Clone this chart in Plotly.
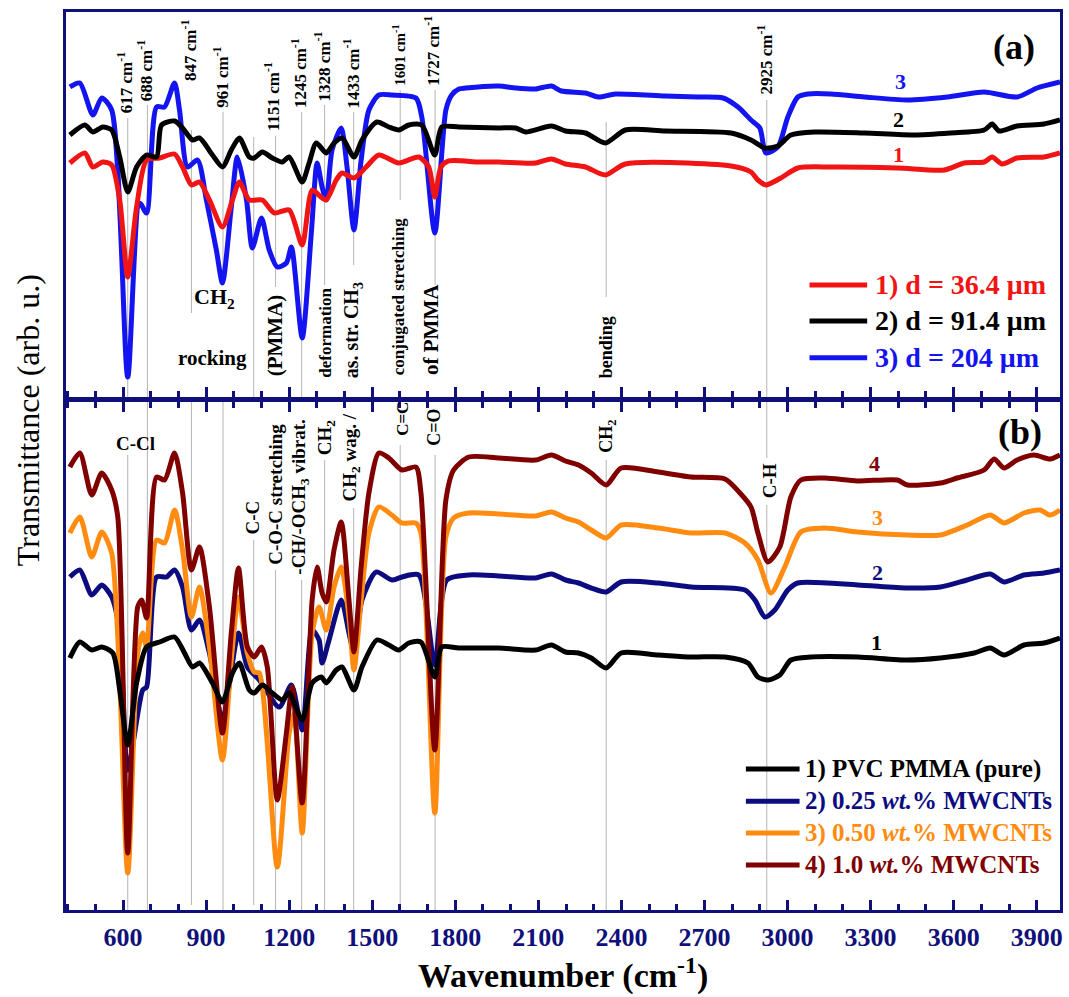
import plotly.graph_objects as go

FONT = "Liberation Serif"
NAVY = "#10107a"

# ---------------- Panel (a): transmittance, three film thicknesses ----------------
wn_a_blue = [408, 444, 491, 523, 559, 617, 660, 685, 721, 750, 786, 804, 833, 869, 901, 937, 959, 991, 1013,
             1046, 1067, 1100, 1128, 1157, 1190, 1208, 1247, 1280, 1301, 1319, 1334, 1355, 1388, 1409, 1434,
             1460, 1488, 1524, 1571, 1658, 1679, 1726, 1766, 1787, 1813, 1838, 1957, 2018, 2090, 2147, 2183,
             2270, 2317, 2378, 2558, 2677, 2767, 2821, 2868, 2900, 2922, 2965, 3001, 3037, 3073, 3156, 3278,
             3433, 3577, 3710, 3829, 3901, 3984]
tr_a_blue = [313, 317, 285, 302, 290, 23, 197, 187, 293, 293, 317, 290, 233, 240, 200, 150, 117, 193, 243,
             200, 152, 182, 150, 133, 137, 153, 62, 167, 237, 213, 200, 250, 272, 233, 170,
             240, 290, 305, 305, 302, 283, 167, 290, 305, 311, 312, 314, 312, 311, 314, 309,
             307, 303, 306, 304, 303, 302, 293, 280, 272, 247, 253, 283, 303, 306, 306, 303,
             300, 303, 308, 303, 312, 318]

wn_a_black = [408, 462, 491, 527, 559, 588, 617, 649, 685, 721, 739, 786, 815, 851, 876, 923, 959, 991, 1020,
              1056, 1074, 1103, 1139, 1175, 1200, 1247, 1272, 1298, 1334, 1362, 1391, 1434, 1463, 1517, 1560,
              1596, 1632, 1679, 1726, 1751, 1813, 1957, 2018, 2054, 2147, 2198, 2270, 2342, 2414, 2558, 2796,
              2868, 2918, 2965, 3012, 3098, 3278, 3458, 3588, 3710, 3739, 3764, 3829, 3926, 3984]
tr_a_black = [265, 275, 268, 273, 270, 243, 208, 233, 245, 243, 275, 279, 272, 260, 262, 245, 233, 250, 262,
              243, 242, 248, 242, 238, 243, 218, 237, 257, 247, 257, 262, 243, 260, 278, 273,
              270, 275, 275, 245, 273, 273, 272, 272, 268, 274, 269, 267, 257, 270, 269, 267,
              260, 252, 254, 265, 268, 267, 265, 267, 270, 276, 269, 274, 276, 280]

wn_a_red = [408, 462, 491, 527, 559, 588, 617, 649, 685, 732, 786, 815, 847, 876, 912, 959, 995, 1020, 1056,
            1103, 1146, 1200, 1247, 1283, 1319, 1334, 1370, 1391, 1434, 1478, 1524, 1596, 1668, 1704, 1726,
            1748, 1776, 1885, 1957, 2090, 2147, 2198, 2270, 2342, 2414, 2796, 2868, 2893, 2922, 2976, 3037,
            3156, 3397, 3566, 3638, 3710, 3739, 3775, 3829, 3926, 3984]
tr_a_red = [237, 247, 233, 238, 235, 200, 123, 193, 240, 242, 246, 233, 215, 218, 200, 173, 200, 218, 200,
            200, 187, 190, 155, 210, 202, 200, 220, 227, 222, 233, 245, 237, 243, 233, 203,
            233, 239, 238, 238, 237, 241, 236, 233, 225, 236, 234, 228, 220, 215, 222, 232,
            233, 232, 230, 237, 238, 243, 236, 242, 243, 247]

# ---------------- Panel (b): transmittance, MWCNT loading ----------------
wn_b1 = [408, 444, 487, 523, 563, 588, 617, 649, 685, 732, 786, 822, 851, 876, 923, 959, 995, 1020, 1056,
         1074, 1103, 1139, 1175, 1200, 1247, 1283, 1316, 1334, 1370, 1391, 1434, 1463, 1517, 1560, 1596,
         1632, 1676, 1726, 1751, 1813, 1957, 2090, 2147, 2198, 2245, 2291, 2345, 2399, 2533, 2652, 2774,
         2857, 2893, 2929, 2972, 3012, 3084, 3253, 3433, 3552, 3674, 3732, 3782, 3854, 3926, 3984]
tr_b1 = [252, 268, 260, 263, 257, 220, 165, 227, 263, 268, 273, 257, 243, 247, 227, 208, 237, 247, 220,
         217, 225, 217, 210, 217, 190, 227, 233, 227, 240, 243, 220, 243, 270, 265, 260,
         267, 268, 233, 263, 262, 262, 260, 265, 258, 257, 252, 242, 257, 255, 253, 253,
         247, 233, 230, 235, 250, 253, 253, 250, 252, 257, 262, 255, 265, 267, 272]

wn_b2 = [408, 444, 487, 523, 559, 588, 617, 671, 685, 721, 757, 786, 815, 847, 876, 912, 959, 1017, 1049,
         1092, 1164, 1208, 1247, 1283, 1308, 1319, 1344, 1388, 1416, 1434, 1463, 1514, 1571, 1607, 1668,
         1726, 1769, 1849, 1957, 2090, 2147, 2198, 2245, 2291, 2345, 2399, 2533, 2652, 2846, 2882, 2918,
         2954, 3001, 3037, 3253, 3433, 3552, 3649, 3732, 3782, 3854, 3926, 3984]
tr_b2 = [333, 340, 315, 325, 313, 277, 140, 220, 223, 333, 333, 340, 323, 280, 290, 257, 190, 277, 243,
         230, 203, 225, 180, 280, 270, 247, 270, 310, 277, 257, 310, 338, 330, 333, 335,
         245, 330, 335, 334, 332, 336, 330, 327, 322, 318, 328, 327, 323, 320, 310, 293,
         300, 320, 327, 325, 322, 323, 330, 336, 328, 335, 337, 340]

wn_b3 = [408, 444, 487, 523, 559, 617, 653, 671, 685, 721, 750, 786, 815, 847, 876, 912, 959, 991, 1017,
         1049, 1074, 1092, 1157, 1200, 1218, 1247, 1283, 1308, 1334, 1362, 1388, 1416, 1434, 1460, 1488,
         1524, 1571, 1607, 1658, 1676, 1726, 1766, 1794, 1849, 1957, 2090, 2147, 2198, 2245, 2291, 2345,
         2399, 2533, 2652, 2774, 2846, 2893, 2940, 2990, 3048, 3134, 3253, 3433, 3552, 3649, 3732, 3782,
         3854, 3912, 3948, 3984]
tr_b3 = [377, 393, 353, 378, 357, 37, 257, 277, 263, 370, 367, 400, 360, 293, 323, 263, 150, 250, 313,
         257, 238, 237, 43, 177, 197, 77, 277, 303, 280, 323, 343, 293, 240, 310, 377,
         403, 395, 387, 387, 377, 97, 373, 392, 397, 396, 394, 398, 392, 388, 380, 372,
         385, 382, 377, 377, 367, 350, 317, 343, 378, 382, 378, 375, 375, 385, 395, 387,
         397, 400, 395, 400]

wn_b4 = [408, 444, 487, 523, 559, 581, 617, 653, 667, 685, 721, 750, 786, 815, 847, 876, 912, 959, 991,
         1017, 1049, 1074, 1100, 1121, 1157, 1190, 1211, 1247, 1283, 1301, 1319, 1334, 1362, 1388, 1416,
         1434, 1460, 1488, 1524, 1560, 1607, 1658, 1676, 1726, 1766, 1794, 1849, 1957, 2090, 2147, 2198,
         2245, 2291, 2345, 2399, 2533, 2652, 2774, 2828, 2868, 2893, 2929, 2972, 3012, 3048, 3134, 3253,
         3397, 3433, 3552, 3613, 3710, 3746, 3782, 3829, 3890, 3948, 3984]
tr_b4 = [443, 457, 415, 437, 420, 393, 57, 303, 310, 292, 433, 430, 457, 417, 340, 363, 303, 177, 277,
         342, 263, 253, 263, 243, 110, 177, 223, 107, 310, 343, 317, 308, 360, 388, 310,
         258, 343, 417, 457, 452, 440, 443, 417, 160, 410, 440, 453, 452, 450, 455, 449,
         445, 437, 425, 442, 438, 433, 431, 417, 403, 377, 348, 363, 413, 430, 432, 429,
         430, 425, 427, 432, 440, 451, 442, 450, 455, 451, 455]

series_a = [
    ("3) d = 204 μm", wn_a_blue, tr_a_blue, "#1414f0"),
    ("1) d = 36.4 μm", wn_a_red, tr_a_red, "#f01414"),
    ("2) d = 91.4 μm", wn_a_black, tr_a_black, "#000000"),
]
series_b = [
    ("2) 0.25 wt.% MWCNTs", wn_b2, tr_b2, "#0c0c80"),
    ("3) 0.50 wt.% MWCNTs", wn_b3, tr_b3, "#ff8c10"),
    ("4) 1.0 wt.% MWCNTs", wn_b4, tr_b4, "#800000"),
    ("1) PVC PMMA (pure)", wn_b1, tr_b1, "#000000"),
]

# band positions (cm^-1) used for guide lines
band_wn = [617, 688, 847, 961, 1072, 1151, 1245, 1328, 1433, 1601, 1727, 2345, 2925]

X_RANGE = [394, 3984]
YA_RANGE = [3, 388]
YB_RANGE = [0, 508]

fig = go.Figure()
for name, x, y, c in series_a:
    fig.add_trace(go.Scatter(x=x, y=y, mode="lines", name=name, xaxis="x2", yaxis="y2",
                             line=dict(color=c, width=5, shape="spline", smoothing=0.7),
                             showlegend=False))
for name, x, y, c in series_b:
    fig.add_trace(go.Scatter(x=x, y=y, mode="lines", name=name, xaxis="x", yaxis="y",
                             line=dict(color=c, width=5, shape="spline", smoothing=0.7),
                             showlegend=False))

guide_a = {617: (3, 282), 688: (3, 295), 847: (87, 270), 961: (117, 288), 1072: (3, 263),
           1151: (113, 264), 1245: (3, 288), 1328: (115, 295), 1433: (135, 288), 1601: (200, 310),
           1727: (115, 310), 2345: (103, 278), 2925: (3, 300)}
guide_b = {617: [(0, 455)], 688: [(0, 508)], 847: [(5, 508)], 961: [(0, 508)], 1072: [(5, 370)],
           1151: [(0, 340)], 1245: [(0, 330)], 1328: [(0, 450)], 1433: [(0, 402)], 1601: [(0, 465)],
           1727: [(0, 455)], 2345: [(0, 450)], 2925: [(0, 405), (452, 508)]}
shapes = []
for w in band_wn:
    y0, y1 = guide_a[w]
    shapes.append(dict(type="line", xref="x2", yref="y2", x0=w, x1=w, y0=y0, y1=y1,
                       line=dict(color="#b4b4b4", width=1), layer="below"))
    for (y0, y1) in guide_b[w]:
        shapes.append(dict(type="line", xref="x", yref="y", x0=w, x1=w, y0=y0, y1=y1,
                           line=dict(color="#b4b4b4", width=1), layer="below"))

annotations = []


def ann(text, x, y, xref, yref, size, color="black", angle=0, xanchor="center", yanchor="middle", bold=True):
    annotations.append(dict(text=(f"<b>{text}</b>" if bold else text), x=x, y=y, xref=xref, yref=yref,
                            showarrow=False, textangle=angle, xanchor=xanchor, yanchor=yanchor,
                            font=dict(family=FONT, size=size, color=color)))


labels_a_top = [("617 cm<sup>-1</sup>", 610, 285, 17), ("688 cm<sup>-1</sup>", 682, 297, 17),
                ("847 cm<sup>-1</sup>", 840, 317, 17), ("961 cm<sup>-1</sup>", 955, 290, 17),
                ("1151 cm<sup>-1</sup>", 1140, 267, 17), ("1245 cm<sup>-1</sup>", 1236, 290, 17),
                ("1328 cm<sup>-1</sup>", 1320, 297, 17), ("1433 cm<sup>-1</sup>", 1425, 290, 17),
                ("1601 cm<sup>-1</sup>", 1596, 312, 15), ("1727 cm<sup>-1</sup>", 1715, 312, 17),
                ("2925 cm<sup>-1</sup>", 2917, 303, 17)]
for t, x, y, s in labels_a_top:
    ann(t, x, y, "x2", "y2", s, angle=-90, yanchor="bottom")

labels_a_bot = [("(PMMA)", 1150, 22, 21), ("deformation", 1332, 20, 17), ("as. str. CH<sub>3</sub>", 1432, 20, 20),
                ("conjugated stretching", 1596, 23, 17), ("of PMMA", 1714, 23, 21), ("bending", 2345, 20, 18)]
for t, x, y, s in labels_a_bot:
    ann(t, x, y, "x2", "y2", s, angle=-90, yanchor="bottom")
ann("CH<sub>2</sub>", 930, 102, "x2", "y2", 22)
ann("rocking", 923, 42, "x2", "y2", 21)

ann("C-Cl", 646, 467, "x", "y", 19)
labels_b = [("C-C", 1064, 373, 19), ("C-O-C stretching", 1150, 343, 19),
            ("-CH/-OCH<sub>3</sub> vibrat.", 1236, 333, 19), ("CH<sub>2</sub>", 1334, 453, 19),
            ("CH<sub>2</sub> wag. /", 1425, 407, 19), ("C=C", 1607, 472, 17), ("C=O", 1720, 462, 18),
            ("CH<sub>2</sub>", 2349, 455, 18), ("C-H", 2936, 410, 19)]
for t, x, y, s in labels_b:
    ann(t, x, y, "x", "y", s, angle=-90, yanchor="bottom")

for t, x, y, c in [("3", 3408, 319, "#1414f0"), ("2", 3400, 280, "#000000"), ("1", 3400, 245, "#f01414")]:
    ann(t, x, y, "x2", "y2", 22, color=c)
for t, x, y, c in [("4", 3314, 447, "#800000"), ("3", 3325, 393, "#ff8c10"), ("2", 3325, 338, "#0c0c80"),
                   ("1", 3321, 268, "#000000")]:
    ann(t, x, y, "x", "y", 22, color=c)

ann("(a)", 3818, 353, "x2", "y2", 36)
ann("(b)", 3840, 478, "x", "y", 36)

ann("Wavenumber (cm<sup>-1</sup>)", 0.5, -0.071, "paper", "paper", 34)
ann("Transmittance (arb. u.)", -0.038, 0.5457, "paper", "paper", 32, angle=-90, bold=False)

legend_a = [("1) d = 36.4 μm", "#f01414", 0.696), ("2) d = 91.4 μm", "#000000", 0.656),
            ("3) d = 204 μm", "#1414f0", 0.615)]
for t, c, y in legend_a:
    shapes.append(dict(type="line", xref="paper", yref="paper", x0=0.748, x1=0.806, y0=y, y1=y,
                       line=dict(color=c, width=5)))
    ann(t, 0.812, y, "paper", "paper", 28, color=c, xanchor="left")

legend_b = [("1) PVC PMMA (pure)", "#000000", 0.157), ("2) 0.25 <i>wt.</i>% MWCNTs", "#0c0c80", 0.121),
            ("3) 0.50 <i>wt.</i>% MWCNTs", "#ff8c10", 0.0857), ("4) 1.0 <i>wt.</i>% MWCNTs", "#800000", 0.050)]
for t, c, y in legend_b:
    shapes.append(dict(type="line", xref="paper", yref="paper", x0=0.684, x1=0.738, y0=y, y1=y,
                       line=dict(color=c, width=5)))
    ann(t, 0.741, y, "paper", "paper", 25, color=c, xanchor="left")

common_x = dict(range=X_RANGE, showgrid=False, zeroline=False, showline=True, linecolor=NAVY, linewidth=3,
                ticks="inside", tickcolor=NAVY, tickwidth=3, ticklen=10, tick0=600, dtick=300,
                minor=dict(ticks="inside", dtick=100, tick0=600, ticklen=6, tickcolor=NAVY, tickwidth=3))
fig.update_layout(
    width=1069, height=997,
    margin=dict(l=66, r=6, t=12, b=87),
    paper_bgcolor="white", plot_bgcolor="white",
    xaxis=dict(**common_x, anchor="y", mirror="ticks", showticklabels=True,
               tickfont=dict(family=FONT, size=26, color=NAVY, weight="bold"), ticklabelstandoff=2),
    xaxis2=dict(**common_x, anchor="y2", mirror=True, showticklabels=False, matches="x"),
    yaxis=dict(domain=[0, 0.5657], range=YB_RANGE, showgrid=False, zeroline=False, showline=True,
               linecolor=NAVY, linewidth=3, mirror=True, ticks="", showticklabels=False),
    yaxis2=dict(domain=[0.5713, 1], range=YA_RANGE, showgrid=False, zeroline=False, showline=True,
                linecolor=NAVY, linewidth=3, mirror=True, ticks="", showticklabels=False),
    shapes=shapes, annotations=annotations, showlegend=False,
)

fig.write_html("out.html")
